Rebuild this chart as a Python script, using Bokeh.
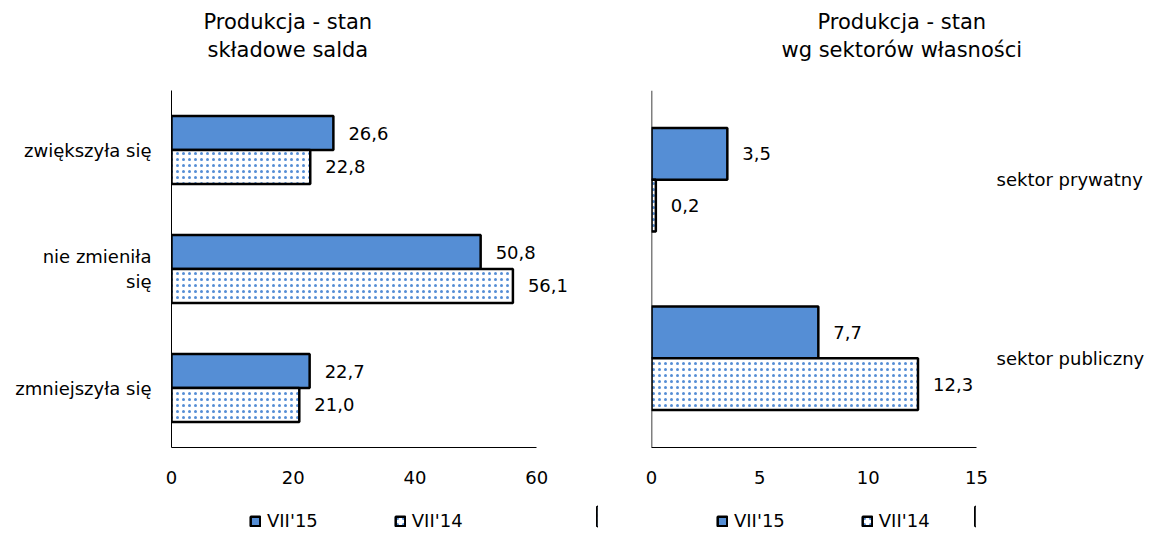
from bokeh.plotting import figure
from bokeh.models import (FactorRange, Range1d, Legend, LegendItem, Title, Span,
                          FixedTicker, ColumnDataSource)
from bokeh.transform import dodge
from bokeh.layouts import row, column
from bokeh.embed import file_html
from bokeh.resources import INLINE
from bokeh.core.properties import value

FONT = "DejaVu Sans"
BLUE = "#558ED5"

# ---- data ----
series_names = ["VII'15", "VII'14"]

left_title = ["Produkcja - stan", "składowe salda"]
left_categories = ["zwiększyła się", "nie zmieniła\nsię", "zmniejszyła się"]
left_vii15 = [26.6, 50.8, 22.7]
left_vii14 = [22.8, 56.1, 21.0]
left_ticks = [0, 20, 40, 60]

right_title = ["Produkcja - stan", "wg sektorów własności"]
right_categories = ["sektor prywatny", "sektor publiczny"]
right_vii15 = [3.5, 7.7]
right_vii14 = [0.2, 12.3]
right_ticks = [0, 5, 10, 15]


def fmt(v):
    return f"{v:.1f}".replace(".", ",")


def bar_style(fig, src, y, right, h, hatched):
    if hatched:
        return fig.hbar(y=y, left=0, right=right, height=h, fill_color="white",
                        hatch_pattern="dot", hatch_color=BLUE, hatch_scale=6,
                        hatch_weight=1, line_color="black", line_width=2.5, source=src)
    return fig.hbar(y=y, left=0, right=right, height=h, fill_color=BLUE,
                    line_color="black", line_width=2.5, source=src)


def make_chart(title, cats, v15, v14, ticks, x_end, bar_h, side, title_offsets,
               border_left, frame_w, border_right, standoff):
    src = ColumnDataSource(dict(cat=cats, v15=v15, v14=v14,
                                l15=[fmt(v) for v in v15],
                                l14=[fmt(v) for v in v14]))
    p = figure(y_range=FactorRange(factors=list(reversed(cats)), range_padding=0),
               x_range=Range1d(ticks[0], x_end),
               frame_width=frame_w, frame_height=357,
               min_border_left=border_left, min_border_right=border_right,
               min_border_top=90, min_border_bottom=50,
               output_backend="svg", toolbar_location=None,
               y_axis_location=side)
    p.xgrid.visible = False
    p.ygrid.visible = False
    p.outline_line_color = None
    p.background_fill_color = "white"
    p.border_fill_color = "white"

    bar_style(p, src, dodge("cat", bar_h / 2, range=p.y_range), "v15", bar_h, False)
    bar_style(p, src, dodge("cat", -bar_h / 2, range=p.y_range), "v14", bar_h, True)

    for col, lab, off in (("v15", "l15", bar_h / 2), ("v14", "l14", -bar_h / 2)):
        p.text(x=col, y=dodge("cat", off, range=p.y_range), text=lab, source=src,
               x_offset=15, text_align="left", text_baseline="middle",
               text_font=value(FONT), text_font_size="18px", text_color="black")

    xa = p.xaxis[0]
    xa.ticker = FixedTicker(ticks=ticks)
    xa.bounds = (ticks[0], ticks[-1])
    xa.major_tick_line_color = None
    xa.minor_tick_line_color = None
    xa.major_tick_out = 0
    xa.major_tick_in = 0
    xa.major_label_standoff = 23
    xa.axis_line_color = "black"
    xa.major_label_text_font = FONT
    xa.major_label_text_font_size = "18px"
    xa.major_label_text_color = "black"

    ya = p.yaxis[0]
    ya.major_tick_line_color = None
    ya.minor_tick_line_color = None
    ya.major_tick_out = 0
    ya.major_tick_in = 0
    ya.major_label_standoff = standoff
    ya.major_label_text_font = FONT
    ya.major_label_text_font_size = "18px"
    ya.major_label_text_color = "black"
    if side == "right":
        ya.axis_line_color = None
        p.add_layout(Span(location=0, dimension="height", line_color="black",
                          line_width=1.5))
    else:
        ya.axis_line_color = "black"

    # title lines: second line nearest the frame, first line above it
    p.add_layout(Title(text=title[1], align="left", offset=title_offsets[1],
                       text_font=FONT, text_font_size="21px", text_color="black",
                       text_font_style="normal", standoff=57), "above")
    p.add_layout(Title(text=title[0], align="left", offset=title_offsets[0],
                       text_font=FONT, text_font_size="21px", text_color="black",
                       text_font_style="normal", standoff=-53), "above")
    return p, src


def make_legend(width, legend_x, src):
    # legend strip under a chart; its bars lie outside the visible x range,
    # only their legend swatches are shown
    lf = figure(width=width, height=38, x_range=Range1d(-2, -1), y_range=Range1d(0, 1),
                min_border=0, x_axis_location=None, y_axis_location=None,
                output_backend="svg", toolbar_location=None)
    lf.outline_line_color = None
    lf.xgrid.visible = False
    lf.ygrid.visible = False
    r15 = bar_style(lf, src, 0.5, "v15", 0.5, False)
    r14 = bar_style(lf, src, 0.5, "v14", 0.5, True)
    legend = Legend(items=[LegendItem(label=series_names[0], renderers=[r15]),
                           LegendItem(label=series_names[1], renderers=[r14])],
                    location=(legend_x, 4), orientation="horizontal",
                    glyph_width=12, glyph_height=12, label_standoff=6, spacing=76,
                    padding=0, margin=0, border_line_color=None,
                    background_fill_alpha=0, label_text_font=FONT,
                    label_text_color="black",
                    label_text_font_size="18px", label_height=20)
    lf.add_layout(legend)
    return lf


p1, s1 = make_chart(left_title, left_categories, left_vii15, left_vii14, left_ticks, 70,
                    0.285, "left", (32, 36), 171, 426, 11, 20)
p2, s2 = make_chart(right_title, right_categories, right_vii15, right_vii14, right_ticks, 15,
                    0.29, "right", (166, 130), 43, 325, 170, 20)
l1 = make_legend(608, 78, s1)
l2 = make_legend(538, 65, s2)

layout = row(column(p1, l1, spacing=0), column(p2, l2, spacing=0), spacing=0)
open("out.html", "w").write(file_html(layout, INLINE))
